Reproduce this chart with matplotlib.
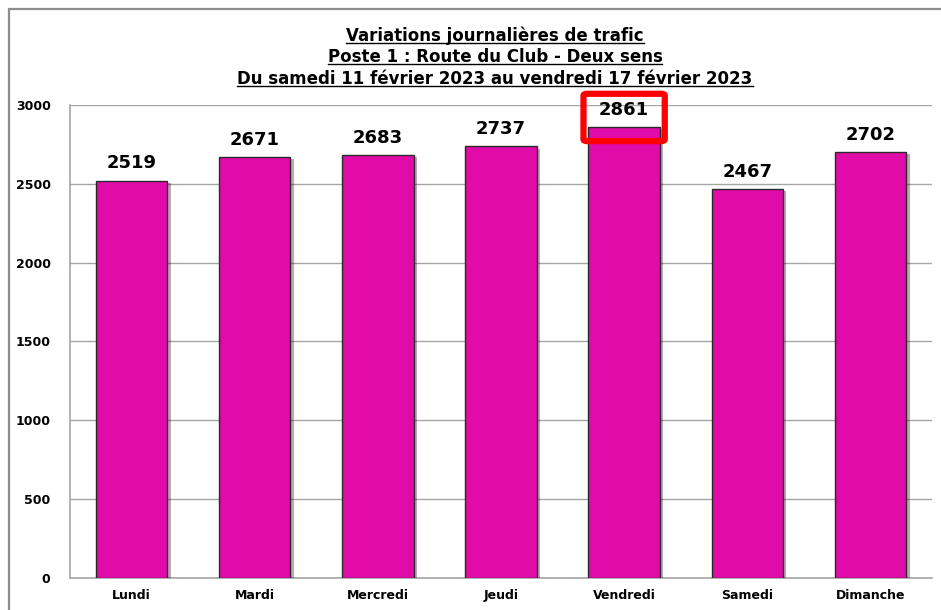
import matplotlib.pyplot as plt
import matplotlib.patheffects as pe
from matplotlib.patches import FancyBboxPatch
from matplotlib.lines import Line2D

plt.rcParams['font.family'] = ['DejaVu Sans']

# Daily traffic, both directions
days = ['Lundi', 'Mardi', 'Mercredi', 'Jeudi', 'Vendredi', 'Samedi', 'Dimanche']
traffic = [2519, 2671, 2683, 2737, 2861, 2467, 2702]
yticks = [0, 500, 1000, 1500, 2000, 2500, 3000]
title_lines = ["Variations journalières de trafic",
               "Poste 1 : Route du Club - Deux sens",
               "Du samedi 11 février 2023 au vendredi 17 février 2023"]

fig = plt.figure(figsize=(9.41, 6.10), dpi=100)
ax = fig.add_axes([0.0744, 0.0525, 0.916, 0.7754])

x = range(len(days))
bars = ax.bar(x, traffic, width=0.58, color='#E00BA8', edgecolor='#2a2a2a',
              linewidth=1.0, zorder=3)
for b in bars:
    b.set_path_effects([pe.SimplePatchShadow(offset=(2.5, -1.5), alpha=0.35), pe.Normal()])

for i, v in enumerate(traffic):
    ax.annotate(str(v), (i, v), xytext=(0, 6), textcoords='offset points',
                ha='center', va='bottom', fontsize=13, fontweight='heavy', color='black')

# highlight the busiest day
imax = traffic.index(max(traffic))
box = FancyBboxPatch((imax - 0.33, max(traffic) - 90), 0.66, 300,
                     boxstyle='round,pad=0,rounding_size=0.03', fill=False,
                     edgecolor='#FF0000', linewidth=4.5, zorder=5, clip_on=False,
                     mutation_aspect=400)
ax.add_patch(box)

ax.set_xlim(-0.5, len(days) - 0.5)
ax.set_ylim(0, 3000)
ax.set_yticks(yticks)
ax.set_yticklabels([str(t) for t in yticks], fontsize=9, fontweight='bold')
ax.set_xticks(list(x))
ax.set_xticklabels(days, fontsize=9, fontweight='bold')
ax.tick_params(length=0, pad=14)
ax.tick_params(axis='x', pad=8)
ax.grid(axis='y', color='#a6a6a6', linewidth=1.0, zorder=0)
for s in ['top', 'right']:
    ax.spines[s].set_visible(False)
for s in ['left', 'bottom']:
    ax.spines[s].set_color('#a6a6a6')
    ax.spines[s].set_linewidth(1.2)

# title with underlines
fig.canvas.draw()
r = fig.canvas.get_renderer()
ys = [0.941, 0.906, 0.870]
for line, y in zip(title_lines, ys):
    t = fig.text(0.526, y, line, ha='center', va='center', fontsize=12, fontweight='bold')
    bb = t.get_window_extent(renderer=r).transformed(fig.transFigure.inverted())
    fig.add_artist(Line2D([bb.x0, bb.x1], [bb.y0 + 0.004, bb.y0 + 0.004],
                          color='black', linewidth=1.0, transform=fig.transFigure))

# outer frame (top and left edges only)
fig.add_artist(Line2D([0.0096, 0.0096, 1.0], [0.0, 0.985, 0.985], color='#8c8c8c',
                      linewidth=1.6, solid_capstyle='butt', solid_joinstyle='miter',
                      transform=fig.transFigure))

fig.savefig('out.png', dpi=100)
